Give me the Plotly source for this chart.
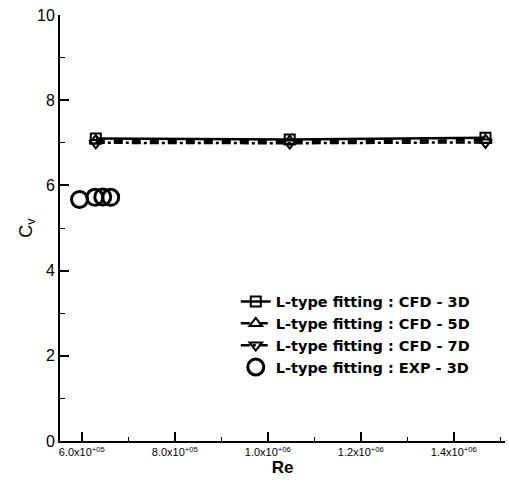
import plotly.graph_objects as go

re_cfd = [6.3e5, 1.047e6, 1.468e6]
cv_3d = [7.10, 7.08, 7.12]
cv_5d = [7.05, 7.04, 7.06]
cv_7d = [7.00, 6.99, 7.01]
re_exp = [5.95e5, 6.28e5, 6.45e5, 6.62e5]
cv_exp = [5.67, 5.72, 5.73, 5.72]

xtick_vals = [6e5, 8e5, 1.0e6, 1.2e6, 1.4e6]
xtick_text = ["6.0x10<sup>+05</sup>", "8.0x10<sup>+05</sup>", "1.0x10<sup>+06</sup>",
              "1.2x10<sup>+06</sup>", "1.4x10<sup>+06</sup>"]
ytick_vals = [0, 2, 4, 6, 8, 10]
names = ["<b>L-type fitting : CFD - 3D</b>", "<b>L-type fitting : CFD - 5D</b>",
         "<b>L-type fitting : CFD - 7D</b>", "<b>L-type fitting : EXP - 3D</b>"]

fig = go.Figure()
fig.add_trace(go.Scatter(x=re_cfd, y=cv_3d, mode="lines+markers", name=names[0],
                         line=dict(color="black", width=2.5, dash="solid"),
                         marker=dict(symbol="square-open", size=10, color="black", line=dict(width=2))))
fig.add_trace(go.Scatter(x=re_cfd, y=cv_5d, mode="lines+markers", name=names[1],
                         line=dict(color="black", width=2.5, dash="dash"),
                         marker=dict(symbol="triangle-up-open", size=11, color="black", line=dict(width=2))))
fig.add_trace(go.Scatter(x=re_cfd, y=cv_7d, mode="lines+markers", name=names[2],
                         line=dict(color="black", width=2.5, dash="dashdot"),
                         marker=dict(symbol="triangle-down-open", size=11, color="black", line=dict(width=2))))
fig.add_trace(go.Scatter(x=re_exp, y=cv_exp, mode="markers", name=names[3],
                         marker=dict(symbol="circle-open", size=16, color="black", line=dict(width=3))))

fig.update_layout(
    width=509, height=482,
    margin=dict(l=60, r=4, t=15, b=41),
    paper_bgcolor="white", plot_bgcolor="white",
    font=dict(family="Liberation Sans, Arial", color="black", size=14),
    showlegend=True,
    legend=dict(x=0.395, y=0.365, xanchor="left", yanchor="top",
                bgcolor="rgba(0,0,0,0)", font=dict(size=14.5, family="DejaVu Sans"),
                itemwidth=30, tracegroupgap=0),
    xaxis=dict(range=[5.53e5, 1.51e6], tickvals=xtick_vals, ticktext=xtick_text,
               ticks="inside", ticklen=9, tickwidth=2, tickcolor="black",
               showline=True, linecolor="black", linewidth=2, showgrid=False, zeroline=False,
               tickfont=dict(size=11),
               minor=dict(tickvals=[7e5, 9e5, 1.1e6, 1.3e6, 1.5e6], ticks="inside", ticklen=4, tickwidth=1, tickcolor="black"),
               title=dict(text="<b>Re</b>", font=dict(size=17), standoff=4)),
    yaxis=dict(range=[0, 10], tickvals=ytick_vals,
               ticks="inside", ticklen=9, tickwidth=2, tickcolor="black",
               showline=True, linecolor="black", linewidth=2, showgrid=False, zeroline=False,
               tickfont=dict(size=16),
               minor=dict(tickvals=[1, 3, 5, 7, 9], ticks="inside", ticklen=5, tickwidth=1, tickcolor="black"),
               title=dict(text="C<sub>v</sub>", font=dict(size=18), standoff=0)),
)

fig.write_html("out.html")
